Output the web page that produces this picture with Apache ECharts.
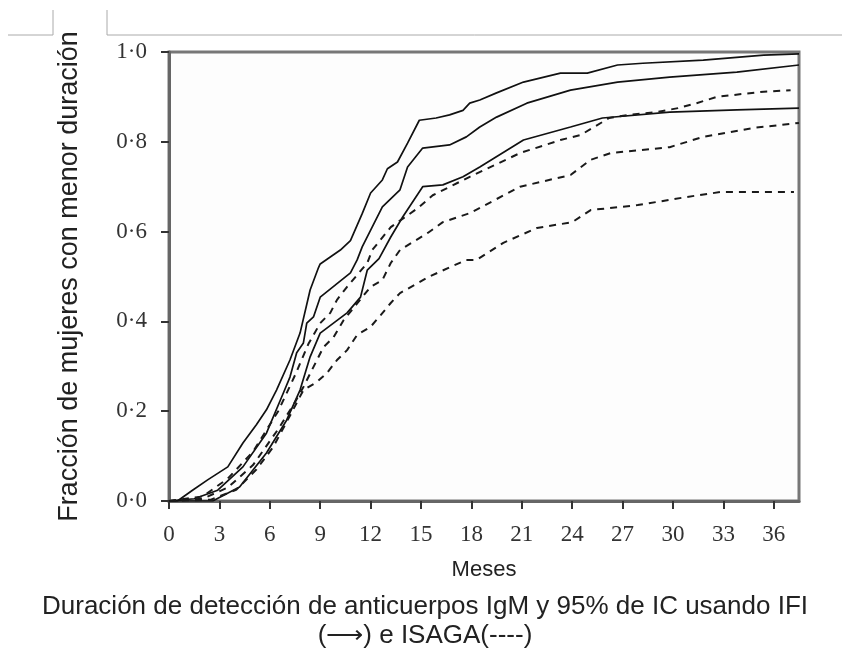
<!DOCTYPE html>
<html>
<head>
<meta charset="utf-8">
<script src="https://cdn.jsdelivr.net/npm/echarts@6/dist/echarts.min.js"></script>
<style>
html,body{margin:0;padding:0;background:#fff;}
#c{width:842px;height:651px;}
</style>
</head>
<body>
<div id="c"></div>
<script>
// Months (x) and cumulative fraction (y)
var xTicks = [0,3,6,9,12,15,18,21,24,27,30,33,36];
var yTicks = [0,0.2,0.4,0.6,0.8,1.0];

var ifiUpper = [[0,0],[0.5,0],[1.4,0.024],[2.3,0.047],[3.5,0.076],[4.4,0.129],[5.2,0.17],[5.8,0.203],[6.4,0.247],[7.2,0.314],[7.8,0.374],[8.4,0.47],[8.9,0.52],[9.0,0.528],[10.2,0.559],[10.8,0.58],[11.5,0.64],[12.0,0.686],[12.7,0.715],[13.0,0.74],[13.6,0.755],[14.2,0.797],[14.9,0.848],[15.9,0.853],[16.7,0.86],[17.5,0.87],[17.9,0.886],[18.5,0.893],[19.5,0.909],[21.1,0.933],[23.3,0.953],[24.9,0.953],[26.7,0.971],[28.2,0.975],[31.8,0.982],[35.4,0.993],[37.5,0.996]];
var ifiEst = [[0,0],[1.5,0.005],[2.9,0.024],[4.4,0.076],[5.8,0.151],[6.8,0.24],[7.2,0.276],[7.6,0.33],[8.0,0.352],[8.2,0.396],[8.6,0.41],[9.0,0.454],[10.8,0.508],[11.2,0.537],[11.5,0.566],[12.7,0.655],[13.75,0.693],[14.2,0.744],[15.1,0.786],[16.7,0.793],[17.7,0.811],[18.5,0.833],[19.5,0.855],[21.3,0.886],[23.9,0.915],[26.7,0.933],[29.8,0.944],[33.8,0.955],[37.5,0.971]];
var ifiLower = [[0,0],[2.6,0],[4.2,0.031],[5.8,0.107],[7.0,0.18],[7.8,0.247],[8.4,0.321],[9.0,0.374],[10.6,0.419],[11.4,0.454],[11.8,0.514],[12.5,0.54],[13.2,0.588],[13.9,0.632],[15.1,0.70],[16.3,0.704],[17.5,0.722],[18.5,0.744],[21.1,0.804],[23.9,0.833],[25.8,0.853],[29.8,0.866],[33.8,0.871],[37.5,0.875]];
var isagaUpper = [[0,0],[2,0.01],[3.5,0.05],[5,0.11],[6.5,0.2],[7.5,0.28],[8.3,0.35],[9.0,0.396],[9.6,0.419],[10.0,0.448],[10.6,0.477],[11.8,0.53],[12.1,0.559],[13.2,0.61],[14.8,0.652],[15.7,0.681],[17.9,0.722],[20.9,0.775],[23.3,0.804],[24.5,0.815],[26.2,0.853],[27.4,0.86],[29.0,0.866],[30.3,0.875],[31.4,0.886],[32.6,0.9],[35.2,0.911],[37.0,0.915]];
var isagaEst = [[0,0],[2,0.005],[3.5,0.03],[5,0.08],[6.5,0.16],[7.5,0.22],[8.0,0.254],[9.2,0.343],[9.8,0.365],[10.4,0.403],[12.0,0.477],[12.7,0.492],[13.2,0.53],[13.75,0.559],[15.4,0.597],[16.3,0.621],[17.9,0.641],[20.9,0.7],[23.9,0.726],[25.1,0.76],[26.3,0.775],[29.8,0.788],[31.8,0.811],[34.8,0.831],[37.5,0.842]];
var isagaLower = [[0,0],[2.5,0.003],[4,0.025],[5.2,0.07],[6.2,0.12],[7.2,0.19],[8.0,0.247],[8.8,0.265],[9.4,0.285],[10.0,0.314],[10.6,0.336],[11.2,0.37],[12.0,0.388],[12.6,0.414],[13.2,0.441],[13.75,0.463],[15.5,0.5],[17.7,0.537],[18.3,0.537],[19.9,0.575],[21.9,0.608],[24,0.621],[25.1,0.648],[27.9,0.659],[30.8,0.677],[32.8,0.688],[37.2,0.688]];

var xTitle = 'Meses';
var yTitle = 'Fracción de mujeres con menor duración';
var captionLine1 = 'Duración de detección de anticuerpos IgM y 95% de IC usando IFI';
var captionLine2 = '(⟶) e ISAGA(----)';

var chart = echarts.init(document.getElementById('c'), null, {renderer:'canvas'});
var serif = 'Liberation Serif';
var sans = 'Liberation Sans';
function solid(d){return {type:'line',data:d,showSymbol:false,symbol:'none',lineStyle:{color:'#111',width:1.7,type:'solid'},z:3};}
function dashed(d){return {type:'line',data:d,showSymbol:false,symbol:'none',lineStyle:{color:'#1a1a1a',width:2,type:[7,6]},z:3};}

chart.setOption({
  animation:false,
  backgroundColor:'#fff',
  grid:{left:169,right:43,top:52,bottom:150,show:true,borderColor:'#777',borderWidth:3,backgroundColor:'#fdfdfd'},
  xAxis:{type:'value',min:0,max:37.5,interval:3,
    name:xTitle,nameLocation:'middle',nameGap:58,
    nameTextStyle:{fontFamily:sans,fontSize:22,color:'#222'},
    axisLine:{show:true,lineStyle:{color:'#666',width:3}},
    axisTick:{show:true,length:8,lineStyle:{color:'#333',width:2},customValues:xTicks},
    axisLabel:{fontFamily:serif,fontSize:23,color:'#333',margin:22,customValues:xTicks},
    splitLine:{show:false}},
  yAxis:{type:'value',min:0,max:1,interval:0.2,
    name:yTitle,nameLocation:'middle',nameGap:86,
    nameTextStyle:{fontFamily:sans,fontSize:27,color:'#222'},
    axisLine:{show:true,lineStyle:{color:'#666',width:3}},
    axisTick:{show:true,length:8,lineStyle:{color:'#333',width:2}},
    axisLabel:{fontFamily:serif,fontSize:23,color:'#333',margin:22,
      formatter:function(v){return v.toFixed(1).replace('.','·');}},
    splitLine:{show:false}},
  graphic:[
    {type:'polyline',shape:{points:[[8,35],[53,35],[53,10]]},style:{stroke:'#aaa',lineWidth:1,fill:null}},
    {type:'polyline',shape:{points:[[107,10],[107,35],[842,35]]},style:{stroke:'#aaa',lineWidth:1,fill:null}},
    {type:'text',x:425,y:607,style:{text:captionLine1,font:'26px "Liberation Sans"',fill:'#222',textAlign:'center',textVerticalAlign:'middle'}},
    {type:'text',x:425,y:636,style:{text:captionLine2,font:'26px "Liberation Sans"',fill:'#222',textAlign:'center',textVerticalAlign:'middle'}}
  ],
  series:[solid(ifiUpper),solid(ifiEst),solid(ifiLower),dashed(isagaUpper),dashed(isagaEst),dashed(isagaLower)]
});
</script>
</body>
</html>
